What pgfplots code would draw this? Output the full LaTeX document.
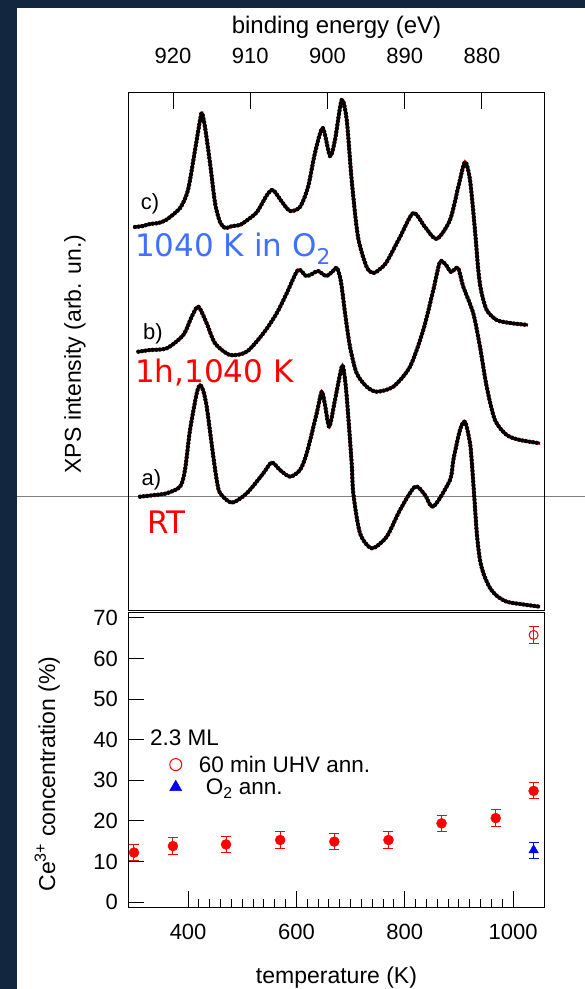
\documentclass[border=0pt]{standalone}
\usepackage{fontspec}
\setmainfont{Liberation Sans}
\newfontfamily\anfont{DejaVu Sans}
\usepackage{pgfplots}
\usepackage{pgfplotstable}
\pgfplotsset{compat=1.18}
\definecolor{navy}{RGB}{18,38,64}
\definecolor{anblue}{RGB}{64,112,255}

\pgfplotstableread{
E I
924.92 762
923.90 763
922.98 765
921.90 766
920.91 769
919.09 781
918.06 799
917.15 839
916.50 869
916.25 876
915.86 862
915.21 826
914.56 786
913.92 767
913.27 761
912.30 763
911.33 764
910.20 770
909.13 777
907.83 794
907.06 799
905.89 787
904.85 778
903.56 782
902.52 802
901.62 836
900.62 861
899.68 833
899.03 849
898.16 889
897.51 869
896.87 809
896.05 752
894.93 722
894.07 716
893.20 720
892.34 727
890.61 752
888.89 776
887.38 762
885.86 750
884.14 769
883.07 802
882.20 827
881.55 809
880.91 759
880.48 719
880.13 699
879.39 679
878.10 669
876.38 666
874.05 664
}\curvec

\pgfplotstableread{
E I
924.49 637.3
922.98 639
920.82 640.7
918.67 654
917.58 672.3
916.72 682.3
915.64 665.7
914.56 645.7
912.62 634
910.46 637.3
908.31 655.7
906.58 675.7
905.28 695.7
903.82 719
902.78 713
902.01 715
901.23 718
900.19 713
899.42 717
898.77 721
898.25 707
897.73 676
897.09 642.3
896.22 615.7
894.93 602.3
893.63 597.3
891.48 602.3
889.32 622.3
887.60 659
886.30 699
885.44 727
884.66 724
884.01 717
883.11 721
882.42 702.3
881.13 675.7
880.26 642.3
879.39 602.3
878.32 569
876.80 554
875.08 549
872.49 545.7
}\curveb

\pgfplotstableread{
E I
924.27 492.3
922.33 494
920.82 495.7
919.09 502.3
918.45 519
917.80 559
916.93 595.7
916.50 604
916.12 599
915.64 582.3
914.78 532.3
914.34 509
913.92 496
912.40 486.3
910.46 495.7
908.31 515.7
907.22 526.5
906.15 519
904.85 512.3
903.56 519
902.69 535.7
901.40 575.7
900.75 597.3
900.32 584
899.77 562.3
899.03 589
898.16 622.3
897.86 617
897.51 592.3
896.87 525.7
896.66 495.7
895.79 455.7
894.27 440.7
892.34 452.3
890.61 479
888.67 502.3
887.38 494
886.30 482.3
884.14 509
883.71 529
882.85 559
882.20 567.3
881.55 546
881.29 524
880.97 489
880.65 454
880.26 429
879.74 414
878.96 401
878.06 393
876.80 387.3
875.08 385
872.49 382.3
}\curvea

\pgfplotstableread{
T C err
300 12.2 2
372 13.8 2
470 14.2 2
570 15.3 2
670 14.9 2
770 15.3 2
868 19.4 2
968 20.7 2
1038 27.4 2
}\redfilled

\pgfplotstableread{
T C err
1038 65.8 2
}\redopen

\pgfplotstableread{
T C err
1038 12.8 2
}\blueox

\newcommand{\spec}[1]{%
  \addplot[red, line width=3.2pt, smooth, tension=0.45] table[x=E,y=I] {#1};
  \addplot[black, line width=1.8pt, smooth, tension=0.45] table[x=E,y=I] {#1};
  \addplot[black, line width=4.4pt, line cap=round, dash pattern=on 0pt off 3.6pt, smooth, tension=0.45] table[x=E,y=I] {#1};
}

\begin{document}
\begin{tikzpicture}[x=1pt,y=1pt]
\path[use as bounding box] (0,0) rectangle (585,989);
\fill[navy] (0,0) rectangle (585,989);
\fill[white] (17.3,0) rectangle (585,981);
\draw[gray, line width=1pt] (17.3,492) -- (585,492);

\begin{axis}[
  at={(129pt,378pt)}, anchor=south west, scale only axis,
  width=415pt, height=518pt,
  xmin=871.97, xmax=925.70, x dir=reverse, ymin=378, ymax=896,
  axis line style={line width=1pt},
  xtick={880,890,900,910,920}, xtick pos=upper, xticklabel pos=upper,
  tick align=inside, major tick length=16pt, ytick=\empty,
  tick style={line width=1pt, black},
  /pgf/number format/assume math mode=true,
  /pgf/number format/1000 sep={},
  ticklabel style={font=\fontsize{22}{26}\selectfont},
  xticklabel style={anchor=base, yshift=29pt},
  xlabel={binding energy (eV)},
  xlabel style={at={(axis description cs:0.5,1)}, anchor=base, yshift=59pt, font=\fontsize{24}{28}\selectfont},
  ylabel={XPS intensity (arb. un.)},
  ylabel style={at={(axis description cs:-0.1157,0.496)}, anchor=base, font=\fontsize{23}{27}\selectfont},
]
\spec{\curvec}
\spec{\curveb}
\spec{\curvea}
\node[font=\fontsize{22}{26}\selectfont] at (axis cs:922.98,785.5) {c)};
\node[font=\fontsize{22}{26}\selectfont] at (axis cs:922.59,655) {b)};
\node[font=\fontsize{22}{26}\selectfont] at (axis cs:922.79,509) {a)};
\node[anchor=base west, inner sep=0pt, text=anblue, font=\anfont\fontsize{31}{36}\selectfont] at (axis cs:924.92,732) {1040 K in O\textsubscript{2}};
\node[anchor=base west, inner sep=0pt, text=red, font=\anfont\fontsize{31}{36}\selectfont] at (axis cs:924.92,606) {1h,1040 K};
\node[anchor=base west, inner sep=0pt, text=red, font=\anfont\fontsize{31}{36}\selectfont] at (axis cs:923.37,455) {RT};
\end{axis}

\begin{axis}[
  at={(128pt,82pt)}, anchor=south west, scale only axis,
  width=417pt, height=294pt,
  xmin=289, xmax=1059, ymin=-1.2, ymax=71.2,
  axis line style={line width=1pt},
  xtick={400,600,800,1000}, minor x tick num=9,
  ytick={0,10,20,30,40,50,60,70},
  xtick pos=lower, ytick pos=left, tick align=inside,
  major tick length=16pt, minor tick length=8pt,
  tick style={line width=1pt, black},
  /pgf/number format/assume math mode=true,
  /pgf/number format/1000 sep={},
  ticklabel style={font=\fontsize{22}{26}\selectfont},
  xticklabel style={anchor=base, yshift=-32pt},
  yticklabel style={anchor=east, inner sep=0pt, xshift=-10pt},
  xlabel={temperature (K)},
  xlabel style={at={(axis description cs:0.5,0)}, anchor=base, yshift=-76pt, font=\fontsize{23}{27}\selectfont},
  ylabel={Ce\textsuperscript{3+} concentration (\%)},
  ylabel style={at={(axis description cs:-0.175,0.452)}, anchor=base, font=\fontsize{23}{27}\selectfont},
  legend style={at={(axis cs:365.6,36.6)}, anchor=north west, draw=none, fill=none,
    inner sep=0pt, column sep=15pt, row sep=1pt, font=\fontsize{22.5}{26}\selectfont},
  legend cell align=left,
]
\addplot[only marks, mark=*, mark size=5pt, red, forget plot,
  error bars/.cd, y dir=both, y explicit,
  error bar style={line width=1pt, red}, error mark options={rotate=90, line width=1pt, mark size=5pt}]
  table[x=T, y=C, y error=err] {\redfilled};
\addplot[only marks, mark=o, mark size=4.5pt, red, mark options={line width=1pt}, forget plot,
  error bars/.cd, y dir=both, y explicit,
  error bar style={line width=1pt, red}, error mark options={rotate=90, line width=1pt, mark size=5pt}]
  table[x=T, y=C, y error=err] {\redopen};
\addplot[only marks, mark=triangle*, mark size=5.5pt, blue, forget plot,
  error bars/.cd, y dir=both, y explicit,
  error bar style={line width=1pt, blue}, error mark options={rotate=90, line width=1pt, mark size=5pt}]
  table[x=T, y=C, y error=err] {\blueox};
\addlegendimage{only marks, mark=o, red, mark size=6pt, mark options={line width=1pt}}
\addlegendentry{60 min UHV ann.}
\addlegendimage{only marks, mark=triangle*, blue, mark size=7pt}
\addlegendentry{\hspace{7pt}O\textsubscript{2} ann.}
\node[anchor=west, inner sep=0pt, font=\fontsize{22.5}{26}\selectfont] at (axis cs:329.6,40.4) {2.3 ML};
\end{axis}
\end{tikzpicture}
\end{document}
